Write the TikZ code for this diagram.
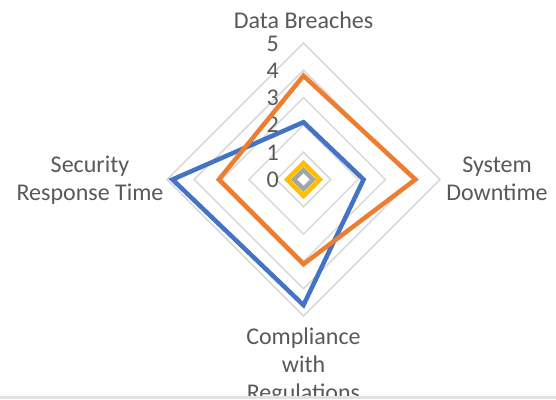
\documentclass[tikz,border=0pt]{standalone}
\usepackage{fontspec}
\setmainfont{Carlito}
\usetikzlibrary{calc}

\definecolor{gridgray}{HTML}{D9D9D9}
\definecolor{labelgray}{HTML}{595959}
\definecolor{serblue}{HTML}{4472C4}
\definecolor{serorange}{HTML}{ED7D31}
\definecolor{sergray}{HTML}{A5A5A5}
\definecolor{seryellow}{HTML}{FFC000}

% size of one step on the value axis
\def\unitr{27.3}
% one closed series: values on top, right, bottom and left spoke
\def\radarline[#1](#2:#3:#4:#5){\draw[#1] (0,-#2*\unitr) -- (#3*\unitr,0) -- (0,#4*\unitr) -- (-#5*\unitr,0) -- cycle;}

\begin{document}
\begin{tikzpicture}[x=1pt,y=-1pt,
		gridline/.style={draw=gridgray, line width=1.5pt},
		serline/.style={line width=4.5pt, line join=miter},
		catlabel/.style={text=labelgray, align=center, inner sep=0pt, anchor=base,
			font=\fontsize{24}{28}\selectfont},
		ticklabel/.style={text=labelgray, inner sep=0pt, anchor=base east,
			font=\fontsize{24}{28}\selectfont}]
			%%%%% START %%%%%
			
			\fill[white] (0, 0) rectangle (556, 399);
			\useasboundingbox (0, 0) rectangle (556, 399);
			
			\begin{scope}
				\clip (0, 0) rectangle (556, 396);
				
				\begin{scope}[shift={(303.5, 179.5)}]
					% rings
					\foreach \k in {1,...,5}
						\draw[gridline] (0, -\k*\unitr) -- (\k*\unitr, 0) -- (0, \k*\unitr) -- (-\k*\unitr, 0) -- cycle;
					
					% axis values
					\foreach \k in {0,...,5}
						\node[ticklabel] (tick\k) at (-24.5, -\k*\unitr+8) {\k};
					
					% series
					\radarline[serline, draw=serblue](2.1:2.2:4.6:4.8)
					\radarline[serline, draw=serorange](3.8:4.1:3.1:3.1)
					\radarline[serline, draw=sergray](0.35:0.35:0.35:0.35)
					\radarline[serline, draw=seryellow](0.6:0.6:0.6:0.6)
				\end{scope}
				
				% multi-line labels sit on the baseline of their last line
				\node[catlabel] (breaches) at (303.5, 28) {Data Breaches};
				\node[catlabel] (downtime) at (497, 200) {System\\Downtime};
				\node[catlabel] (response) at (90, 200) {Security\\Response Time};
				\node[catlabel] (compliance) at (303.5, 400) {Compliance\\with\\Regulations};
			\end{scope}
			
			\fill[gridgray!80] (0, 396) rectangle (556, 399);
			
			%%%%% END %%%%%
\end{tikzpicture}
\end{document}
